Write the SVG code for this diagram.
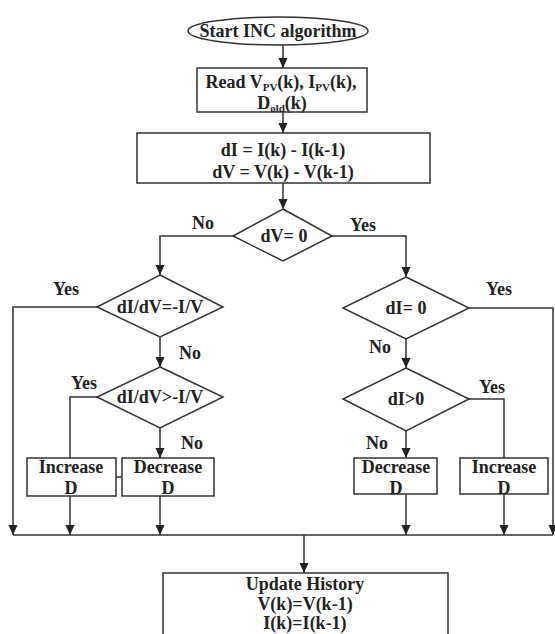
<svg xmlns="http://www.w3.org/2000/svg" width="555" height="634" viewBox="0 0 555 634">
<defs>
<marker id="ah" markerWidth="10" markerHeight="11" refX="11" refY="5" orient="auto" markerUnits="userSpaceOnUse" viewBox="0 0 11 10">
<path d="M0,0 L11,5 L0,10 Z" fill="#222"/>
</marker>
</defs>
<style>
.s{fill:#fff;stroke:#333;stroke-width:1.5}
.c{fill:none;stroke:#333;stroke-width:1.5}
.a{fill:none;stroke:#333;stroke-width:1.5;marker-end:url(#ah)}
text{font-family:"Liberation Serif","Times New Roman",serif;font-weight:bold;font-size:18px;fill:#222}
.m{text-anchor:middle}
.sub{font-size:11px}
</style>
<rect width="555" height="634" fill="#fff"/>
<g id="connectors">
<line class="a" x1="283" y1="45" x2="283" y2="68"/>
<line class="a" x1="283" y1="112" x2="283" y2="133"/>
<line class="a" x1="283" y1="183" x2="283" y2="209"/>
<polyline class="a" points="233,236 160,236 160,275"/>
<polyline class="a" points="332,236 406,236 406,277"/>
<line class="a" x1="160" y1="337" x2="160" y2="367"/>
<polyline class="a" points="97,307 13,307 13,535"/>
<polyline class="c" points="97,397 70,397 70,458"/>
<line class="a" x1="160" y1="428" x2="160" y2="458"/>
<line class="c" x1="116" y1="477" x2="122" y2="477"/>
<line class="a" x1="70" y1="496" x2="70" y2="535"/>
<line class="a" x1="160" y1="496" x2="160" y2="535"/>
<line class="a" x1="406" y1="339" x2="406" y2="368"/>
<polyline class="a" points="469,308 553,308 553,535"/>
<polyline class="c" points="469,399 504,399 504,458"/>
<line class="a" x1="406" y1="431" x2="406" y2="458"/>
<line class="a" x1="406" y1="494" x2="406" y2="535"/>
<line class="a" x1="504" y1="494" x2="504" y2="535"/>
<line class="c" x1="13" y1="535" x2="553" y2="535"/>
<line class="a" x1="304" y1="535" x2="304" y2="573"/>
</g>
<g id="start">
<ellipse class="s" cx="278" cy="31" rx="90" ry="14"/>
<text class="m" x="278" y="37">Start INC algorithm</text>
</g>
<g id="read">
<rect class="s" x="197" y="68" width="170" height="44"/>
<text class="m" x="281" y="88">Read V<tspan class="sub" dy="3">PV</tspan><tspan dy="-3">(k), I</tspan><tspan class="sub" dy="3">PV</tspan><tspan dy="-3">(k),</tspan></text>
<text class="m" x="282" y="109">D<tspan class="sub" dy="3">old</tspan><tspan dy="-3">(k)</tspan></text>
</g>
<g id="diff">
<rect class="s" x="137" y="133" width="293" height="50"/>
<text class="m" x="283" y="156">dI = I(k) - I(k-1)</text>
<text class="m" x="283" y="178">dV = V(k) - V(k-1)</text>
</g>
<g id="dv0">
<polygon class="s" points="283,209 332,236 283,261 233,236"/>
<text class="m" x="284" y="242">dV= 0</text>
<text x="192" y="229">No</text>
<text x="350" y="231">Yes</text>
</g>
<g id="d1">
<polygon class="s" points="160,275 223,307 160,337 97,307"/>
<text class="m" x="160" y="313">dI/dV=-I/V</text>
<text x="53" y="295">Yes</text>
<text x="179" y="359">No</text>
</g>
<g id="d2">
<polygon class="s" points="160,367 223,397 160,428 97,397"/>
<text class="m" x="160" y="403">dI/dV&gt;-I/V</text>
<text x="71" y="389">Yes</text>
<text x="181" y="449">No</text>
</g>
<g id="inc1">
<rect class="s" x="27" y="458" width="89" height="38"/>
<text class="m" x="71" y="473">Increase</text>
<text class="m" x="71" y="494">D</text>
</g>
<g id="dec1">
<rect class="s" x="122" y="458" width="92" height="38"/>
<text class="m" x="168" y="473">Decrease</text>
<text class="m" x="168" y="494">D</text>
</g>
<g id="di0">
<polygon class="s" points="406,277 469,308 406,339 343,308"/>
<text class="m" x="406" y="314">dI= 0</text>
<text x="486" y="295">Yes</text>
<text x="369" y="353">No</text>
</g>
<g id="dig">
<polygon class="s" points="406,368 469,399 406,431 343,399"/>
<text class="m" x="406" y="405">dI&gt;0</text>
<text x="479" y="393">Yes</text>
<text x="366" y="449">No</text>
</g>
<g id="dec2">
<rect class="s" x="354" y="458" width="83" height="36"/>
<text class="m" x="396" y="473">Decrease</text>
<text class="m" x="396" y="494">D</text>
</g>
<g id="inc2">
<rect class="s" x="460" y="458" width="88" height="36"/>
<text class="m" x="504" y="473">Increase</text>
<text class="m" x="504" y="494">D</text>
</g>
<g id="update">
<rect class="s" x="163" y="573" width="285" height="70"/>
<text class="m" x="305" y="590">Update History</text>
<text class="m" x="305" y="610">V(k)=V(k-1)</text>
<text class="m" x="305" y="629">I(k)=I(k-1)</text>
</g>
</svg>
